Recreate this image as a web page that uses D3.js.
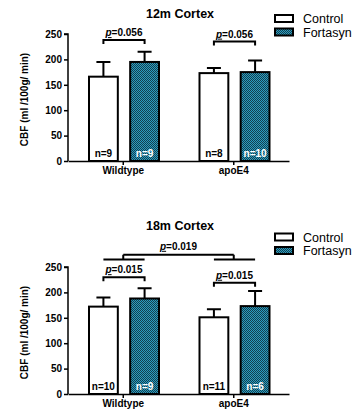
<!DOCTYPE html>
<html>
<head>
<meta charset="utf-8">
<script src="https://cdn.jsdelivr.net/npm/d3@7/dist/d3.min.js"></script>
<style>
  body { margin: 0; background: #fff; }
  svg { display: block; font-family: 'Liberation Sans', Arial, sans-serif; }
</style>
</head>
<body>
<svg id="chart"></svg>
<script>
// data
const groups = ['Wildtype', 'apoE4'];
const diets = ['Control', 'Fortasyn'];
const yTicks = [0, 50, 100, 150, 200, 250];

// 12 month cortex, order: WT-Control, WT-Fortasyn, apoE4-Control, apoE4-Fortasyn
const mean12 = [166, 195, 173, 175];
const sem12 = [29, 20, 10, 23];
const n12 = [9, 9, 8, 10];
const pGroup12 = ['0.056', '0.056'];

// 18 month cortex
const mean18 = [172, 188, 151, 173];
const sem18 = [18, 20, 16, 30];
const n18 = [10, 9, 11, 6];
const pGroup18 = ['0.015', '0.015'];
const pGenotype18 = '0.019';

const W = 364, H = 409;
const svg = d3.select('#chart').attr('width', W).attr('height', H);

const defs = svg.append('defs');
const pat = defs.append('pattern')
  .attr('id', 'dots')
  .attr('width', 2).attr('height', 2)
  .attr('patternUnits', 'userSpaceOnUse');
pat.append('rect').attr('width', 2).attr('height', 2).attr('fill', '#2c9cc0');
pat.append('rect').attr('width', 1).attr('height', 1).attr('fill', '#12404f');
pat.append('rect').attr('x', 1).attr('y', 1).attr('width', 1).attr('height', 1).attr('fill', '#12404f');

const x0 = d3.scaleBand().domain(groups).range([68, 289]);
const x1 = d3.scaleBand().domain(diets).range([21, 91]).paddingInner(0.3);

function barX(i) { return x0(groups[Math.floor(i/2)]) + x1(diets[i%2]); }
function barMid(i) { return barX(i) + x1.bandwidth()/2; }

function panel(opts) {
  const y = d3.scaleLinear().domain([0, 250]).range([opts.bottom, opts.bottom - 127]);
  const g = svg.append('g');

  g.append('text')
    .attr('x', 180).attr('y', opts.titleY)
    .attr('text-anchor', 'middle')
    .attr('font-size', 12.5).attr('font-weight', 'bold')
    .text(opts.title);

  // y axis
  const ya = g.append('g')
    .attr('transform', 'translate(68,0)')
    .call(d3.axisLeft(y).tickValues(yTicks).tickSize(4).tickPadding(2));
  ya.select('.domain').attr('stroke-width', 1.5).attr('d', `M-4,${y(250)}H0V${y(0)}`);
  ya.selectAll('.tick line').attr('stroke-width', 1.5);
  ya.selectAll('.tick text').attr('font-size', 10).attr('font-weight', 'bold').attr('font-family', 'Liberation Sans, Arial');

  g.append('text')
    .attr('transform', `translate(28,${(y(0)+y(250))/2 + 2}) rotate(-90)`)
    .attr('text-anchor', 'middle')
    .attr('font-size', 10).attr('font-weight', 'bold')
    .text('CBF (ml /100g/ min)');

  // x axis
  const xa = g.append('g')
    .attr('transform', `translate(0,${y(0)})`)
    .call(d3.axisBottom(x0).tickSize(4).tickPadding(2).tickSizeOuter(0));
  xa.select('.domain').attr('stroke-width', 1.5);
  xa.selectAll('.tick line').attr('stroke-width', 1.5);
  xa.selectAll('.tick text').attr('font-size', 10).attr('font-weight', 'bold').attr('font-family', 'Liberation Sans, Arial');

  const idx = d3.range(opts.mean.length);

  // error bars (upper only)
  g.selectAll('.err').data(idx).join('path')
    .attr('fill', 'none').attr('stroke', '#000').attr('stroke-width', 2)
    .attr('d', i => {
      const m = barMid(i), top = y(opts.mean[i] + opts.sem[i]);
      return `M${m},${y(opts.mean[i])}V${top}M${m-7},${top}H${m+7}`;
    });

  g.selectAll('.bar').data(idx).join('rect')
    .attr('x', barX)
    .attr('y', i => y(opts.mean[i]))
    .attr('width', x1.bandwidth())
    .attr('height', i => y(0) - y(opts.mean[i]))
    .attr('fill', i => i % 2 ? 'url(#dots)' : '#fff')
    .attr('stroke', '#000').attr('stroke-width', 2);

  g.selectAll('.nlab').data(idx).join('text')
    .attr('x', barMid)
    .attr('y', y(0) - 4)
    .attr('text-anchor', 'middle')
    .attr('font-size', 10).attr('font-weight', 'bold')
    .attr('fill', i => i % 2 ? '#fff' : '#000')
    .text(i => 'n=' + opts.n[i]);

  // within-genotype brackets
  groups.forEach((gr, k) => {
    const a = barMid(2*k), b = barMid(2*k+1), by = y(opts.bracket[k]);
    g.append('path')
      .attr('fill', 'none').attr('stroke', '#000').attr('stroke-width', 2)
      .attr('d', `M${a},${by+4}V${by}H${b}V${by+4}`);
    pText(g, (a+b)/2, by - 4, opts.p[k]);
  });

  // legend
  const lg = g.append('g');
  diets.forEach((d, k) => {
    const ly = opts.legendY + k*13.5;
    lg.append('rect')
      .attr('x', 275).attr('y', ly).attr('width', 18).attr('height', 7)
      .attr('fill', k ? 'url(#dots)' : '#fff')
      .attr('stroke', '#000').attr('stroke-width', 2);
    lg.append('text')
      .attr('x', 303).attr('y', ly + 8)
      .attr('font-size', 12.5)
      .text(d);
  });
  return {g, y};
}

function pText(g, cx, by, val) {
  const t = g.append('text')
    .attr('x', cx).attr('y', by)
    .attr('text-anchor', 'middle')
    .attr('font-size', 10).attr('font-weight', 'bold');
  t.append('tspan').attr('font-style', 'italic').attr('text-decoration', 'underline').text('p');
  t.append('tspan').text('=' + val);
}

panel({title: '12m Cortex', titleY: 18, legendY: 15, bottom: 161,
       mean: mean12, sem: sem12, n: n12, p: pGroup12, bracket: [238, 235]});

const p2 = panel({title: '18m Cortex', titleY: 230, legendY: 233.5, bottom: 394,
       mean: mean18, sem: sem18, n: n18, p: pGroup18, bracket: [230, 219]});

// genotype comparison bracket
{
  const y = p2.y, g = p2.g;
  const lo = y(265), hi = y(274);
  groups.forEach((gr, k) => {
    const a = barMid(2*k), b = barMid(2*k+1), c = x0(gr) + x0.bandwidth()/2;
    g.append('path')
      .attr('fill', 'none').attr('stroke', '#000').attr('stroke-width', 2)
      .attr('d', `M${a},${lo}H${b}M${c},${lo}V${hi}`);
  });
  const c0 = x0(groups[0]) + x0.bandwidth()/2, c1 = x0(groups[1]) + x0.bandwidth()/2;
  g.append('path')
    .attr('fill', 'none').attr('stroke', '#000').attr('stroke-width', 2)
    .attr('d', `M${c0},${hi}H${c1}`);
  pText(g, (c0+c1)/2, hi - 5, pGenotype18);
}
</script>
</body>
</html>
